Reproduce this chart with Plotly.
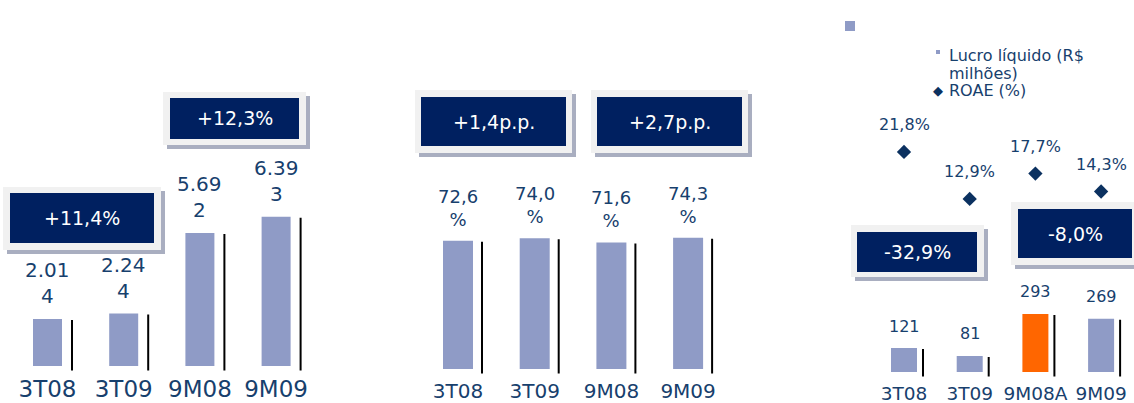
import plotly.graph_objects as go

W, H = 1134, 403

# ---------------- data ----------------
vol_categories = ["3T08", "3T09", "9M08", "9M09"]
vol_values = [2014, 2244, 5692, 6393]

eff_categories = ["3T08", "3T09", "9M08", "9M09"]
eff_values = [72.6, 74.0, 71.6, 74.3]

profit_categories = ["3T08", "3T09", "9M08A", "9M09"]
profit_values = [121, 81, 293, 269]
roae_values = [21.8, 12.9, 17.7, 14.3]

change_labels = ["+11,4%", "+12,3%", "+1,4p.p.", "+2,7p.p.", "-32,9%", "-8,0%"]
legend_labels = ["Lucro líquido (R$", "milhões)", "ROAE (%)"]

# ---------------- style ----------------
BAR = "#8F9BC6"
HIGHLIGHT = "#FF6600"
NAVY = "#002060"
TXT = "#17406D"
DIAMOND = "#0B3160"
FRAME = "#F1F1F1"
SHADOW = "#A9AEC0"
FONT = "DejaVu Sans"


def px(x):
    return x / W


def py(y):
    return 1 - y / H


def fmt_thousands(v):
    s = f"{v:,}".replace(",", ".")
    return s[:4] + "<br>" + s[4:]


def fmt_pct_wrap(v):
    return f"{v:.1f}".replace(".", ",") + "<br>%"


def fmt_pct(v):
    return f"{v:.1f}".replace(".", ",") + "%"


panels = [
    dict(cats=vol_categories, vals=vol_values, colors=[BAR] * 4, x0=47.5, step=76.2, bw=29, lo=24.5,
         base=366, scale=0.02336, dbot=373, tick=23, lab=fmt_thousands, labsize=20, labshift=36),
    dict(cats=eff_categories, vals=eff_values, colors=[BAR] * 4, x0=458, step=76.7, bw=30, lo=24,
         base=369, scale=1.768, dbot=377, tick=20, lab=fmt_pct_wrap, labsize=18, labshift=33),
    dict(cats=profit_categories, vals=profit_values,
         colors=[BAR, BAR, HIGHLIGHT, BAR], x0=904, step=65.7, bw=26, lo=19,
         base=372, scale=0.198, dbot=380, tick=18.5, lab=str, labsize=16, labshift=22),
]

fig = go.Figure()
layout = dict(
    width=W, height=H, margin=dict(l=0, r=0, t=0, b=0),
    paper_bgcolor="white", plot_bgcolor="rgba(0,0,0,0)",
    showlegend=False, barmode="overlay",
    font=dict(family=FONT, color=TXT),
)
annotations = []
shapes = []

for i, p in enumerate(panels, start=1):
    xa = "x" if i == 1 else f"x{i}"
    ya = "y" if i == 1 else f"y{i}"
    step, scale = p["step"], p["scale"]
    bwu = p["bw"] / step
    fig.add_trace(go.Bar(
        x=p["cats"], y=p["vals"], xaxis=xa, yaxis=ya,
        width=bwu, offset=-bwu / 2, marker=dict(color=p["colors"], line=dict(width=0)),
        hoverinfo="x+y",
    ))
    # thin black drop line to the right of each bar
    lw = 2.0 / step
    base_v = -4.5 / scale
    fig.add_trace(go.Bar(
        x=p["cats"], y=[v - 1.0 / scale - base_v for v in p["vals"]], base=base_v,
        xaxis=xa, yaxis=ya, width=lw, offset=p["lo"] / step - lw / 2,
        marker=dict(color="black", line=dict(width=0)), hoverinfo="skip",
    ))
    x_left = p["x0"] - step / 2
    x_right = p["x0"] + 3.5 * step
    layout["xaxis" if i == 1 else f"xaxis{i}"] = dict(
        domain=[px(x_left), min(1.0, px(x_right))], range=[-0.5, 3.5],
        anchor=ya, showgrid=False, zeroline=False, showline=False, ticks="",
        tickfont=dict(family=FONT, size=p["tick"], color=TXT), automargin=False, fixedrange=True,
    )
    layout["yaxis" if i == 1 else f"yaxis{i}"] = dict(
        domain=[py(p["dbot"]), 1], range=[-(p["dbot"] - p["base"]) / scale, p["base"] / scale],
        anchor=xa, visible=False, showgrid=False, zeroline=False, fixedrange=True,
    )
    for c, v in zip(p["cats"], p["vals"]):
        annotations.append(dict(
            x=c, y=v, xref=xa, yref=ya, text=p["lab"](v), showarrow=False,
            yanchor="middle", xanchor="center", yshift=p["labshift"],
            font=dict(family=FONT, size=p["labsize"], color=TXT),
        ))

# ROAE on secondary axis of panel 3
roae_zero, roae_scale = 267.0, 5.28
dbot3 = panels[2]["dbot"]
fig.add_trace(go.Scatter(
    x=profit_categories, y=roae_values, xaxis="x3", yaxis="y4", mode="markers",
    marker=dict(symbol="diamond", size=11, color=DIAMOND, line=dict(width=0)),
))
layout["yaxis4"] = dict(
    overlaying="y3", anchor="x3", visible=False, fixedrange=True,
    range=[-(dbot3 - roae_zero) / roae_scale, roae_zero / roae_scale],
)
for c, v in zip(profit_categories, roae_values):
    annotations.append(dict(
        x=c, y=v, xref="x3", yref="y4", text=fmt_pct(v), showarrow=False,
        yanchor="middle", xanchor="center", yshift=27,
        font=dict(family=FONT, size=16, color=TXT),
    ))

# change boxes: (frame x0, y0, x1, y1), (inner x0, y0, x1, y1) in pixels
box_geom = [
    ((3, 187, 161, 250), (10, 193, 154, 243)),
    ((163, 92, 306, 145), (170, 98, 299, 139)),
    ((415, 90, 572, 153), (421, 97, 566, 146)),
    ((591, 90, 748, 153), (597, 97, 742, 146)),
    ((851, 225, 984, 277), (857, 232, 977, 272)),
    ((1011, 202, 1140, 265), (1018, 209, 1132, 258)),
]
for label, (fr, inn) in zip(change_labels, box_geom):
    shapes.append(dict(type="rect", xref="paper", yref="paper", layer="above",
                       x0=px(fr[0] + 4), x1=px(fr[2] + 4), y0=py(fr[3] + 4), y1=py(fr[1] + 4),
                       fillcolor=SHADOW, line=dict(width=0)))
    shapes.append(dict(type="rect", xref="paper", yref="paper", layer="above",
                       x0=px(fr[0]), x1=px(fr[2]), y0=py(fr[3]), y1=py(fr[1]),
                       fillcolor=FRAME, line=dict(width=0)))
    shapes.append(dict(type="rect", xref="paper", yref="paper", layer="above",
                       x0=px(inn[0]), x1=px(inn[2]), y0=py(inn[3]), y1=py(inn[1]),
                       fillcolor=NAVY, line=dict(width=0)))
    annotations.append(dict(
        x=px((inn[0] + inn[2]) / 2), y=py((inn[1] + inn[3]) / 2), xref="paper", yref="paper",
        text=label, showarrow=False, xanchor="center", yanchor="middle",
        font=dict(family=FONT, size=19, color="white"),
    ))

# legend-like items
shapes.append(dict(type="rect", xref="paper", yref="paper", x0=px(845), x1=px(855), y0=py(31), y1=py(21),
                   fillcolor=BAR, line=dict(width=0)))
shapes.append(dict(type="rect", xref="paper", yref="paper", x0=px(936), x1=px(940), y0=py(54), y1=py(50),
                   fillcolor=BAR, line=dict(width=0)))
annotations.append(dict(x=px(938), y=py(90), xref="paper", yref="paper", text="◆", showarrow=False,
                        xanchor="center", yanchor="middle", font=dict(family=FONT, size=13, color=DIAMOND)))
for txt, yy in zip(legend_labels, [55, 73, 90]):
    annotations.append(dict(x=px(947), y=py(yy), xref="paper", yref="paper", text=txt, showarrow=False,
                            xanchor="left", yanchor="middle", font=dict(family=FONT, size=16, color=TXT)))

layout["annotations"] = annotations
layout["shapes"] = shapes
fig.update_layout(**layout)
fig.write_html(
    "out.html",
    config={"displayModeBar": False},
    post_script="document.body.style.margin='0px';document.body.style.overflow='hidden';",
)
